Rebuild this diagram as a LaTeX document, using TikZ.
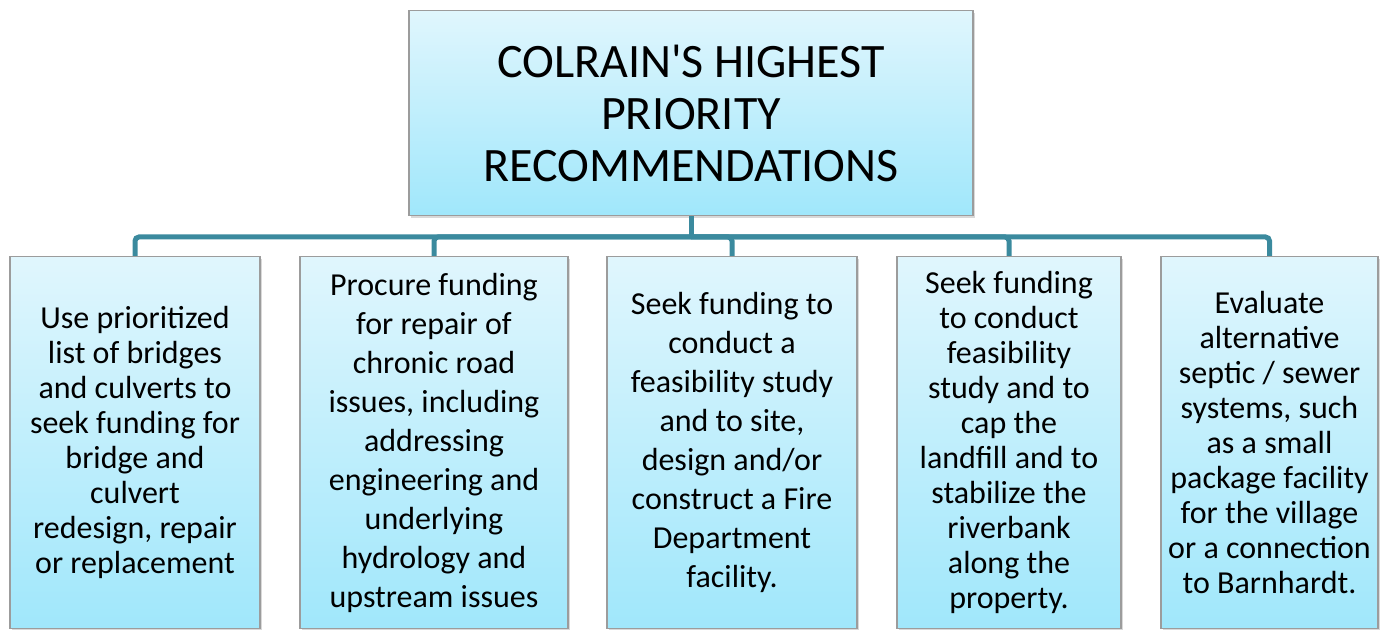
\documentclass[tikz,border=0pt]{standalone}
\usepackage{fontspec}
\setmainfont{Carlito}
\usetikzlibrary{positioning,shadows}
\definecolor{boxtop}{HTML}{E0F6FD}
\definecolor{boxbot}{HTML}{A0E7FB}
\definecolor{linkcol}{HTML}{3B8A9E}
\definecolor{edgecol}{HTML}{9C9C9C}

\begin{document}
\begin{tikzpicture}[x=0.5pt,y=-0.5pt,
	card/.style={draw=edgecol,line width=0.6pt,top color=boxtop,bottom color=boxbot,drop shadow={opacity=0.3,shadow xshift=1pt,shadow yshift=-1pt},align=center,inner sep=0pt,anchor=north},
	rec/.style={card,minimum height=186pt,font=\fontsize{16}{#1}\selectfont},
	rec/.default=17.5pt,
	link/.style={linkcol,line width=2.5pt,rounded corners=2pt}]
	\useasboundingbox (0,0) rectangle (1380,630);
	\node[card,minimum width=282pt,minimum height=102.5pt,font=\fontsize{24}{26}\selectfont] (head) at (691,10) {COLRAIN\textquotesingle S HIGHEST\\PRIORITY\\RECOMMENDATIONS};
	\node[rec,minimum width=125pt] (bridges) at (135,256) {Use prioritized\\list of bridges\\and culverts to\\seek funding for\\bridge and\\culvert\\redesign, repair\\or replacement};
	\node[rec=19.5pt,minimum width=134pt] (roads) at (434,256) {Procure funding\\for repair of\\chronic road\\issues, including\\addressing\\engineering and\\underlying\\hydrology and\\upstream issues};
	\node[rec=19.5pt,minimum width=125pt] (fire) at (732,256) {Seek funding to\\conduct a\\feasibility study\\and to site,\\design and/or\\construct a Fire\\Department\\facility.};
	\node[rec,minimum width=112pt] (landfill) at (1009,256) {Seek funding\\to conduct\\feasibility\\study and to\\cap the\\landfill and to\\stabilize the\\riverbank\\along the\\property.};
	\node[rec,minimum width=108.5pt] (septic) at (1269.5,256) {Evaluate\\alternative\\septic / sewer\\systems, such\\as a small\\package facility\\for the village\\or a connection\\to Barnhardt.};
	% fork under the title box
	\coordinate (fork) at (691,237);
	\draw[link] (head.south) -- (fork);
	\draw[link] (fork) -| (bridges.north);
	\draw[link] (fork) -| (roads.north);
	\draw[link] (fork) -| (fire.north);
	\draw[link] (fork) -| (landfill.north);
	\draw[link] (fork) -| (septic.north);
\end{tikzpicture}
\end{document}
